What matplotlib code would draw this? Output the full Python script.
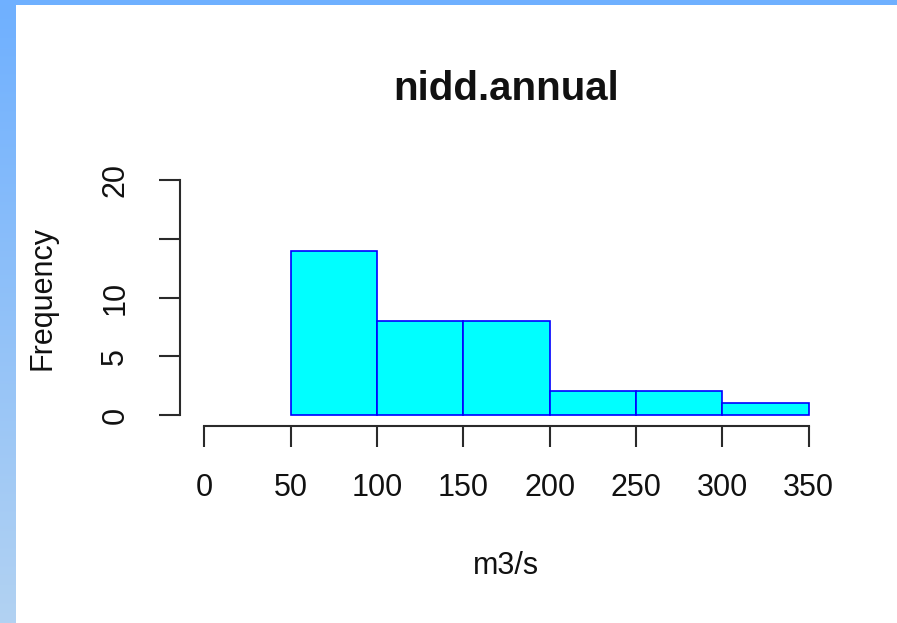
import numpy as np
import matplotlib
matplotlib.use("Agg")
import matplotlib.pyplot as plt
from matplotlib.patches import Rectangle

bin_edges = [50, 100, 150, 200, 250, 300, 350]
counts = [14, 8, 8, 2, 2, 1]
x_ticks = [0, 50, 100, 150, 200, 250, 300, 350]
y_ticks = [0, 5, 10, 15, 20]
y_ticklabels = ["0", "5", "10", "", "20"]
title = "nidd.annual"
xlabel = "m3/s"
ylabel = "Frequency"

plt.rcParams['font.family'] = ['Liberation Sans', 'DejaVu Sans']

W, H = 897, 623
fig = plt.figure(figsize=(W / 100, H / 100), dpi=100)
fig.patch.set_facecolor("white")

# decorative border: top band and left gradient band
fig.patches.append(Rectangle((0, 1 - 5 / H), 1, 5 / H, transform=fig.transFigure,
                             facecolor="#6FB0FF", edgecolor="none", zorder=0))
gax = fig.add_axes([0, 0, 15 / W, 1])
grad = np.linspace(0, 1, 256).reshape(-1, 1)
top_c = np.array([0x6F, 0xB0, 0xFF]) / 255
bot_c = np.array([0xB2, 0xD2, 0xF2]) / 255
img = top_c[None, None, :] * (1 - grad[:, :, None]) + bot_c[None, None, :] * grad[:, :, None]
gax.imshow(img, aspect="auto", extent=[0, 1, 0, 1], origin="upper")
gax.axis("off")

left, right, top, bottom = 180, 833, 171, 426
ax = fig.add_axes([left / W, 1 - bottom / H, (right - left) / W, (bottom - top) / H])
ax.set_facecolor("none")

widths = np.diff(bin_edges)
ax.bar(bin_edges[:-1], counts, width=widths, align="edge",
       facecolor="#00FFFF", edgecolor="#0000FF", linewidth=1.2)

ax.set_xlim(-14, 364)
ax.set_ylim(-0.94, 20.77)

for s in ["top", "right"]:
    ax.spines[s].set_visible(False)
ax.spines["left"].set_bounds(0, 20)
ax.spines["bottom"].set_bounds(0, 350)
for s in ["left", "bottom"]:
    ax.spines[s].set_linewidth(1.5)
    ax.spines[s].set_color("#2a2a2a")

ax.set_xticks(x_ticks)
ax.set_xticklabels([str(v) for v in x_ticks])
ax.set_yticks(y_ticks)
ax.set_yticklabels(y_ticklabels, rotation=90, va="center")
ax.tick_params(axis="both", length=14.8, width=1.5, color="#2a2a2a",
               labelsize=22, labelcolor="#111111")
ax.tick_params(axis="x", pad=19)
ax.tick_params(axis="y", pad=21)

fig.text((left + right) / 2 / W, 1 - 89 / H, title, ha="center", va="center",
         fontsize=29, fontweight="bold", color="#111111")
fig.text((left + right) / 2 / W, 1 - 566 / H, xlabel, ha="center", va="center",
         fontsize=22, color="#111111")
fig.text(43 / W, 1 - 298 / H, ylabel, ha="center", va="center", rotation=90,
         fontsize=22, color="#111111")

fig.savefig("out.png", dpi=100)
